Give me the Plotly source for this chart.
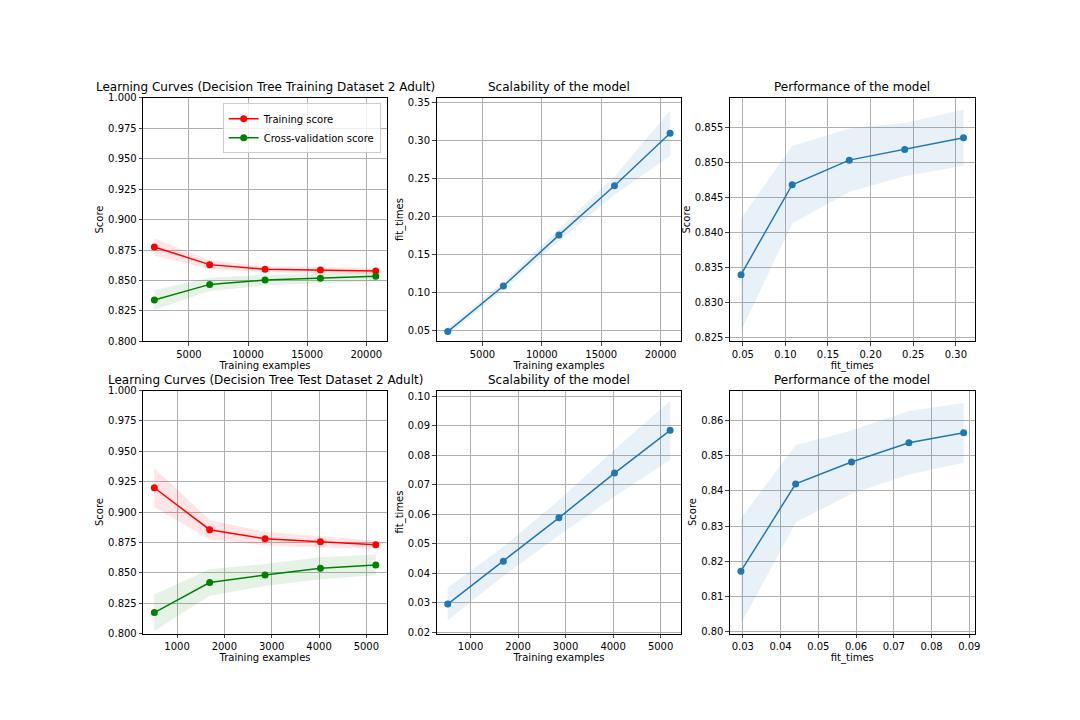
import plotly.graph_objects as go

# Top row: Training dataset
tr_sizes = [2080, 6760, 11440, 16120, 20800]
tr_train = [0.8775, 0.8630, 0.8592, 0.8585, 0.8578]
tr_train_std = [0.0070, 0.0035, 0.0025, 0.0025, 0.0025]
tr_cv = [0.8340, 0.8468, 0.8503, 0.8518, 0.8535]
tr_cv_std = [0.0080, 0.0055, 0.0045, 0.0038, 0.0040]
tr_fit = [0.048, 0.108, 0.175, 0.240, 0.309]
tr_fit_std = [0.005, 0.005, 0.008, 0.012, 0.030]

# Bottom row: Test dataset
te_sizes = [520, 1690, 2860, 4030, 5200]
te_train = [0.9200, 0.8855, 0.8780, 0.8755, 0.8730]
te_train_std = [0.0160, 0.0080, 0.0055, 0.0045, 0.0035]
te_cv = [0.8172, 0.8420, 0.8482, 0.8537, 0.8565]
te_cv_std = [0.0150, 0.0110, 0.0090, 0.0090, 0.0085]
te_fit = [0.0295, 0.0440, 0.0588, 0.0740, 0.0885]
te_fit_std = [0.0055, 0.0050, 0.0060, 0.0080, 0.0100]

fig = go.Figure()

def band(x, y, s, color, xa, ya):
    fig.add_scatter(x=x, y=[a + b for a, b in zip(y, s)], mode='lines', line=dict(width=0),
                    showlegend=False, xaxis=xa, yaxis=ya, hoverinfo='skip')
    fig.add_scatter(x=x, y=[a - b for a, b in zip(y, s)], mode='lines', line=dict(width=0),
                    fill='tonexty', fillcolor=color, showlegend=False, xaxis=xa, yaxis=ya, hoverinfo='skip')

def line(x, y, color, xa, ya, name=None):
    fig.add_scatter(x=x, y=y, mode='lines+markers', line=dict(color=color, width=1.5),
                    marker=dict(size=7, color=color), name=name, showlegend=name is not None,
                    xaxis=xa, yaxis=ya)

rows = [(tr_sizes, tr_train, tr_train_std, tr_cv, tr_cv_std, tr_fit, tr_fit_std, 1),
        (te_sizes, te_train, te_train_std, te_cv, te_cv_std, te_fit, te_fit_std, 4)]
for sizes, trn, trs, cv, cvs, fit, fits, k in rows:
    a, b, c = [str(k + i) if k + i > 1 else '' for i in range(3)]
    band(sizes, trn, trs, 'rgba(255,0,0,0.1)', 'x' + a, 'y' + a)
    band(sizes, cv, cvs, 'rgba(0,128,0,0.1)', 'x' + a, 'y' + a)
    line(sizes, trn, 'red', 'x' + a, 'y' + a, 'Training score' if k == 1 else None)
    line(sizes, cv, 'green', 'x' + a, 'y' + a, 'Cross-validation score' if k == 1 else None)
    band(sizes, fit, fits, 'rgba(31,119,180,0.1)', 'x' + b, 'y' + b)
    line(sizes, fit, '#1f77b4', 'x' + b, 'y' + b)
    band(fit, cv, cvs, 'rgba(31,119,180,0.1)', 'x' + c, 'y' + c)
    line(fit, cv, '#1f77b4', 'x' + c, 'y' + c)

xd = [[136/1080, 381/1080], [431/1080, 677/1080], [726/1080, 972/1080]]
yd = [[1 - 333/720, 1 - 85/720], [1 - 630/720, 1 - 383/720]]
ax = dict(showline=True, mirror=True, linecolor='black', showgrid=True, gridcolor='#b0b0b0',
          ticks='outside', ticklen=3.5, zeroline=False, tickfont=dict(size=10), title_font=dict(size=10),
          title_standoff=2)
xtitles = ['Training examples', 'Training examples', 'fit_times']
ytitles = ['Score', 'fit_times', 'Score']
yranges = {1: [0.8, 1.0], 2: [0.035, 0.356], 3: [0.8245, 0.8592],
           4: [0.8, 1.0], 5: [0.0195, 0.102], 6: [0.7995, 0.8685]}
xranges = {1: [1140, 21740], 2: [1140, 21740], 3: [0.035, 0.322],
           4: [286, 5434], 5: [286, 5434], 6: [0.0266, 0.0914]}
dt = {1: 0.025, 2: 0.05, 3: 0.005, 4: 0.025, 5: 0.01, 6: 0.01}
xdt = {1: 5000, 2: 5000, 3: 0.05, 4: 1000, 5: 1000, 6: 0.01}
yfmt = {1: '.3f', 2: '.2f', 3: '.3f', 4: '.3f', 5: '.2f', 6: '.2f'}
xfmt = {1: 'd', 2: 'd', 3: '.2f', 4: 'd', 5: 'd', 6: '.2f'}
layout = {}
for i in range(1, 7):
    r, c = (i - 1) // 3, (i - 1) % 3
    s = '' if i == 1 else str(i)
    layout['xaxis' + s] = dict(ax, domain=xd[c], anchor='y' + s, title_text=xtitles[c],
                               range=xranges[i], dtick=xdt[i], tickformat=xfmt[i])
    layout['yaxis' + s] = dict(ax, domain=yd[r], anchor='x' + s, title_text=ytitles[c],
                               range=yranges[i], dtick=dt[i], tickformat=yfmt[i])
fig.update_layout(**layout)

titles = ['Learning Curves (Decision Tree Training Dataset 2 Adult)', 'Scalability of the model',
          'Performance of the model', 'Learning Curves (Decision Tree Test Dataset 2 Adult)',
          'Scalability of the model', 'Performance of the model']
for i, t in enumerate(titles):
    r, c = i // 3, i % 3
    fig.add_annotation(text=t, x=sum(xd[c]) / 2, y=yd[r][1], xref='paper', yref='paper',
                       xanchor='center', yanchor='bottom', showarrow=False,
                       font=dict(size=12, color='black'), yshift=2)

fig.update_layout(width=1080, height=720, margin=dict(l=0, r=0, t=0, b=0),
                  plot_bgcolor='white', paper_bgcolor='white',
                  font=dict(family='DejaVu Sans', color='black'),
                  legend=dict(x=0.347, y=0.874, xanchor='right', yanchor='top', bordercolor='#cccccc',
                              borderwidth=1, font=dict(size=10), bgcolor='rgba(255,255,255,0.8)',
                              traceorder='normal'))
fig.write_html("out.html")
